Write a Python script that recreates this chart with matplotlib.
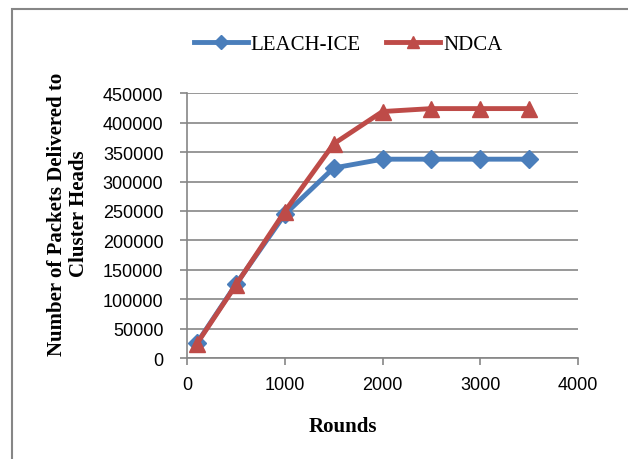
import matplotlib.pyplot as plt
from matplotlib.patches import Rectangle

rounds = [100, 500, 1000, 1500, 2000, 2500, 3000, 3500]
leach_ice = [25000, 125000, 244000, 323000, 338000, 338000, 338000, 338000]
ndca = [24000, 124000, 249000, 364000, 419000, 424000, 424000, 424000]

fig = plt.figure(figsize=(6.28, 4.6), dpi=100)
ax = fig.add_axes([187 / 628, 1 - 359 / 460, 391 / 628, (359 - 94.3) / 460])

ax.plot(rounds, leach_ice, color='#4A7EBB', lw=3.5, marker='D', ms=9,
        label='LEACH-ICE', zorder=3)
ax.plot(rounds, ndca, color='#BE4B48', lw=3.5, marker='^', ms=12,
        label='NDCA', zorder=4)

ax.set_xlim(0, 4000)
ax.set_ylim(0, 450000)
ax.set_xticks(range(0, 4001, 1000))
ax.set_yticks(range(0, 450001, 50000))
ax.yaxis.grid(True, color='#868686', lw=1.2)
ax.set_axisbelow(True)
for s in ['top', 'right']:
    ax.spines[s].set_visible(False)
for s in ['left', 'bottom']:
    ax.spines[s].set_color('#868686')
    ax.spines[s].set_linewidth(1.2)
ax.tick_params(colors='#868686', length=5, width=1.2, labelcolor='black',
               labelsize=13)
for lbl in ax.get_xticklabels() + ax.get_yticklabels():
    lbl.set_fontfamily('Liberation Sans')
ax.tick_params(axis='x', pad=8)
ax.tick_params(axis='y', pad=12)

fig.text(343 / 628, 1 - 427 / 460, 'Rounds', fontfamily='Liberation Serif',
         fontweight='bold', fontsize=15, ha='center', va='center')
fig.text(68 / 628, 1 - 214 / 460, 'Number of Packets Delivered to\nCluster Heads',
         fontfamily='Liberation Serif', fontweight='bold', fontsize=15,
         ha='center', va='center', rotation=90, linespacing=1.1)

fig.legend(loc='center', bbox_to_anchor=(348 / 628, 1 - 45 / 460), ncol=2,
           frameon=False, numpoints=1, handlelength=2.6, handletextpad=0.15,
           columnspacing=1.2, markerscale=0.75,
           prop={'family': 'Liberation Serif', 'size': 15})

fig.patches.append(Rectangle((12 / 628, -0.1), 1.2, 1.1 - 10 / 460,
                             transform=fig.transFigure, fill=False,
                             edgecolor='#868686', lw=1.5))

fig.savefig('out.png', dpi=100)
